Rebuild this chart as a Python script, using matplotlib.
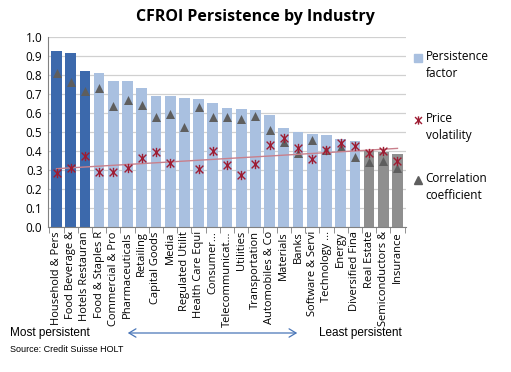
import matplotlib
matplotlib.use("Agg")
import matplotlib.pyplot as plt
import numpy as np
from matplotlib.lines import Line2D
from matplotlib.path import Path

plt.rcParams['font.family'] = ['Open Sans', 'DejaVu Sans']

categories = ["Household & Pers", "Food Beverage &", "Hotels Restauran", "Food & Staples R",
              "Commercial & Pro", "Pharmaceuticals", "Retailing", "Capital Goods", "Media",
              "Regulated Utilit", "Health Care Equi", "Consumer...", "Telecommunicat...",
              "Utilities", "Transportation", "Automobiles & Co", "Materials", "Banks",
              "Software & Servi", "Technology ...", "Energy", "Diversified Fina",
              "Real Estate", "Semiconductors &", "Insurance"]
persistence = [0.924, 0.917, 0.819, 0.813, 0.768, 0.766, 0.732, 0.690, 0.688, 0.681,
               0.676, 0.651, 0.627, 0.620, 0.616, 0.592, 0.523, 0.502, 0.491, 0.484,
               0.463, 0.451, 0.401, 0.393, 0.382]
correlation = [0.81, 0.762, 0.718, 0.732, 0.637, 0.669, 0.644, 0.581, 0.595, 0.525,
               0.630, 0.581, 0.577, 0.569, 0.586, 0.512, 0.449, 0.387, 0.458, 0.405,
               0.419, 0.370, 0.340, 0.349, 0.310]
volatility = [0.282, 0.31, 0.375, 0.287, 0.29, 0.31, 0.361, 0.396, 0.336, np.nan,
              0.305, 0.398, 0.327, 0.275, 0.334, 0.431, 0.467, 0.414, 0.357, 0.405,
              0.44, 0.428, 0.387, 0.401, 0.345]
groups = ["top"] * 3 + ["mid"] * 19 + ["low"] * 3
yticks = [round(0.1 * i, 1) for i in range(11)]

colors = {"top": "#3C69AC", "mid": "#A9C0E0", "low": "#8F8F8F"}

# Excel-style star marker: X plus vertical bar
star = Path([(-1, -1), (1, 1), (-1, 1), (1, -1), (0, -1.2), (0, 1.2)],
            [Path.MOVETO, Path.LINETO, Path.MOVETO, Path.LINETO, Path.MOVETO, Path.LINETO])

fig = plt.figure(figsize=(5.11, 3.72), dpi=100)
ax = fig.add_axes([48 / 511, 1 - 227 / 372, 358 / 511, 190 / 372])

x = np.arange(len(categories))
ax.bar(x, persistence, width=0.75, color=[colors[g] for g in groups], zorder=2)
ax.scatter(x, correlation, marker="^", s=42, color="#5E5E5E", zorder=3, linewidths=0)
ax.scatter(x, volatility, marker=star, s=45, color="#9E1D33", zorder=4, linewidths=1.0)

vol = np.array(volatility)
m = ~np.isnan(vol)
coef = np.polyfit(x[m], vol[m], 1)
ax.plot(x, np.polyval(coef, x), color="#C9808C", lw=1.0, zorder=3.5)

ax.set_xlim(-0.6, len(categories) - 0.4)
ax.set_ylim(0, 1.0)
ax.set_yticks(yticks)
ax.set_yticklabels([f"{t:.1f}" for t in yticks], fontsize=8.5)
ax.yaxis.grid(True, color="#D0D0D0", lw=0.9, zorder=0)
ax.tick_params(axis="y", length=0, pad=4)
ax.set_xticks(x)
ax.set_xticklabels(categories, rotation=90, fontsize=8)
ax.set_xticks(np.arange(len(categories) + 1) - 0.5, minor=True)
ax.tick_params(axis="x", which="major", length=0, pad=3)
ax.tick_params(axis="x", which="minor", length=4, color="#808080")
for s in ["top", "right"]:
    ax.spines[s].set_visible(False)
ax.spines["left"].set_color("#808080")
ax.spines["bottom"].set_color("#808080")

fig.text(0.5, 1 - 17 / 372, "CFROI Persistence by Industry", ha="center", va="center",
         fontsize=11.5, fontweight="bold")

# legend
lx = 418 / 511
fig.add_artist(Line2D([lx], [1 - 58 / 372], marker="s", ms=6, color="#A9C0E0", ls="none"))
fig.text(lx + 0.015, 1 - 65 / 372, "Persistence\nfactor", fontsize=8.5, va="center", linespacing=1.4)
fig.add_artist(Line2D([lx], [1 - 120 / 372], marker=star, ms=6, mew=1.0, color="#9E1D33", ls="none"))
fig.text(lx + 0.015, 1 - 127 / 372, "Price\nvolatility", fontsize=8.5, va="center", linespacing=1.4)
fig.add_artist(Line2D([lx], [1 - 180 / 372], marker="^", ms=6, color="#5E5E5E", ls="none"))
fig.text(lx + 0.015, 1 - 187 / 372, "Correlation\ncoefficient", fontsize=8.5, va="center", linespacing=1.4)

# bottom annotations
fig.text(10 / 511, 1 - 333 / 372, "Most persistent", fontsize=8.5, va="center", family="Liberation Sans")
fig.text(402 / 511, 1 - 333 / 372, "Least persistent", fontsize=8.5, va="center", ha="right",
         family="Liberation Sans")
fig.text(10 / 511, 1 - 350 / 372, "Source: Credit Suisse HOLT", fontsize=6.5, va="center",
         family="Liberation Sans")
fig.patches.append(matplotlib.patches.FancyArrowPatch(
    (125 / 511, 1 - 333 / 372), (300 / 511, 1 - 333 / 372), transform=fig.transFigure,
    arrowstyle="<->,head_length=5,head_width=3", color="#4A76B8", lw=0.9))

fig.savefig("out.png", dpi=100)
